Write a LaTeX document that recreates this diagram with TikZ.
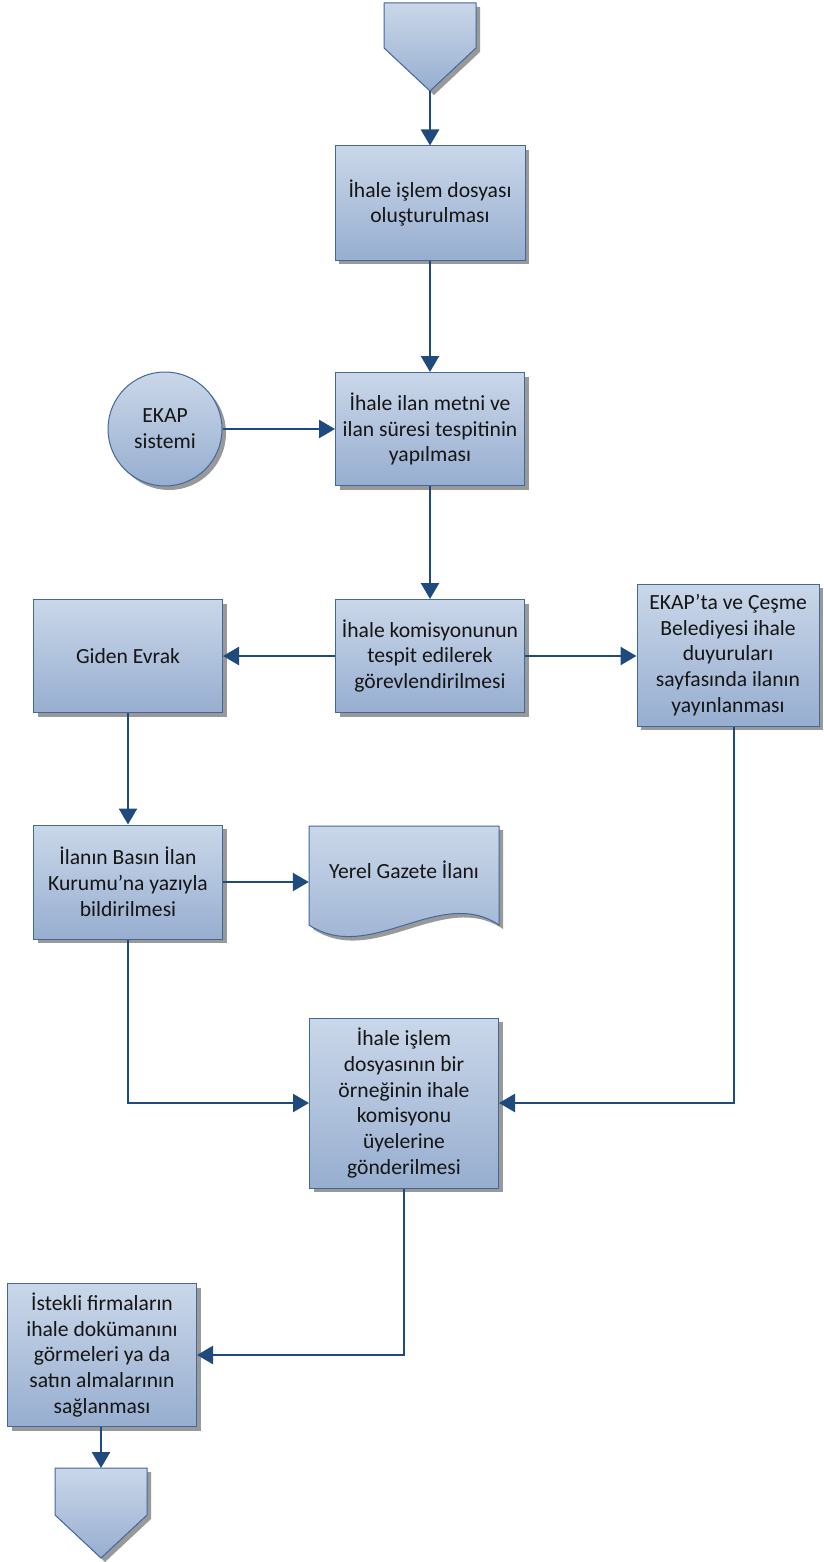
\documentclass[tikz,border=0pt]{standalone}
\usepackage{fontspec}
\setmainfont{Carlito}
\usetikzlibrary{arrows.meta,shadows,calc}
\definecolor{topc}{HTML}{CAD7E9}
\definecolor{botc}{HTML}{97AED0}
\definecolor{bordc}{HTML}{41679B}
\definecolor{arrc}{HTML}{1F4A7E}
\definecolor{txtc}{HTML}{151515}
\tikzset{
  shade/.style={draw=bordc, line width=1pt, top color=topc, bottom color=botc,
    drop shadow={shadow xshift=4pt, shadow yshift=-4pt, fill=black, opacity=0.4}},
  txt/.style={align=center, font=\fontsize{21.6}{25.8}\selectfont, text=txtc, inner sep=1pt},
  box/.style={shade, txt, rectangle},
  conn/.style={draw=arrc, line width=2.5pt, -{Triangle[length=16pt,width=18pt]}},
}
\begin{document}
\begin{tikzpicture}[x=1pt,y=-1pt]
\useasboundingbox (0,0) rectangle (823,1562);
% off-page connectors
\draw[shade] (384,3) -- (476,3) -- (476,48) -- (430,91) -- (384,48) -- cycle;
\coordinate (topc) at (430,91);
\draw[shade] (55,1468) -- (147,1468) -- (147,1515) -- (101,1558) -- (55,1515) -- cycle;
\coordinate (botc) at (101,1468);
% document shape
\draw[shade] (309,826) -- (499,826) -- (499,925) .. controls (440,885) and (370,965) .. (309,925) -- cycle;
\node[minimum width=190pt, minimum height=112pt, inner sep=0pt] (gaz) at (404,882) {};
\node[txt] (gaztext) at (404,870) {Yerel Gazete İlanı};
% boxes
\node[box, minimum width=190pt, minimum height=114pt] (b1) at (430,203) {İhale işlem dosyası\\oluşturulması};
\node[box, minimum width=189pt, minimum height=113pt] (b2) at (430,429) {İhale ilan metni ve\\ilan süresi tespitinin\\yapılması};
\node[shade, txt, circle, minimum size=114pt] (ekap) at (165,429) {EKAP\\sistemi};
\node[box, minimum width=189pt, minimum height=113pt] (b3) at (430,656) {İhale komisyonunun\\tespit edilerek\\görevlendirilmesi};
\node[box, minimum width=189pt, minimum height=113pt] (giden) at (128,656) {Giden Evrak};
\node[box, minimum width=182pt, minimum height=142pt] (ekapta) at (728,655) {EKAP’ta ve Çeşme\\Belediyesi ihale\\duyuruları\\sayfasında ilanın\\yayınlanması};
\node[box, minimum width=189pt, minimum height=114pt] (ilan) at (128,882) {İlanın Basın İlan\\Kurumu’na yazıyla\\bildirilmesi};
\node[box, minimum width=189pt, minimum height=170pt] (b6) at (404,1103) {İhale işlem\\dosyasının bir\\örneğinin ihale\\komisyonu\\üyelerine\\gönderilmesi};
\node[box, minimum width=189pt, minimum height=143pt] (b7) at (102,1355) {İstekli firmaların\\ihale dokümanını\\görmeleri ya da\\satın almalarının\\sağlanması};
% connectors
\draw[conn] (topc) -- (b1.north);
\draw[conn] (b1.south) -- (b2.north);
\draw[conn] (ekap.east) -- (b2.west);
\draw[conn] (b2.south) -- (b3.north);
\draw[conn] (b3.west) -- (giden.east);
\draw[conn] (b3.east) -- (ekapta.west |- b3.east);
\draw[conn] (giden.south) -- (ilan.north);
\draw[conn] (ilan.east) -- (gaz.west);
\draw[conn] (ilan.south) |- (b6.west);
\draw[conn] ([xshift=6pt]ekapta.south) |- (b6.east);
\draw[conn] (b6.south) |- (b7.east);
\draw[conn] (b7.south -| botc) -- (botc);
\end{tikzpicture}
\end{document}
